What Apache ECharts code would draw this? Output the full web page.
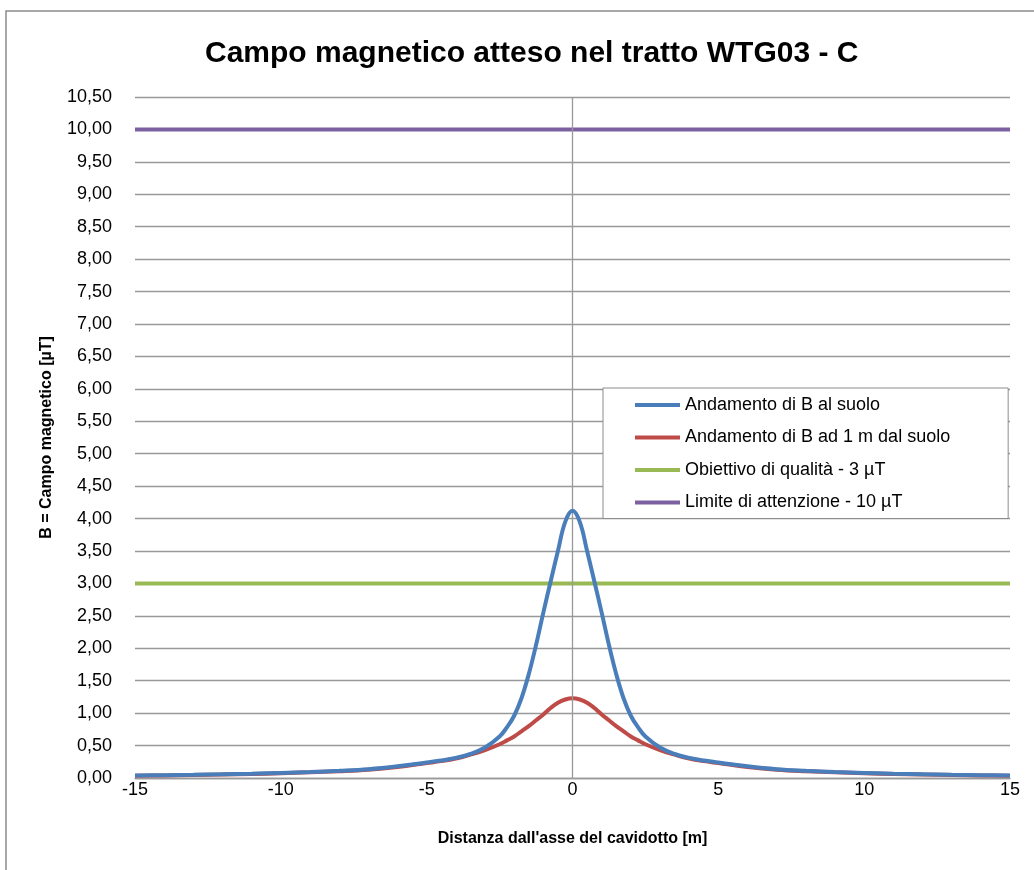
<!DOCTYPE html>
<html>
<head>
<meta charset="utf-8">
<script src="https://cdn.jsdelivr.net/npm/echarts@6/dist/echarts.min.js"></script>
<style>
html,body{margin:0;padding:0;background:#fff;}
#chart{width:1034px;height:870px;}
</style>
</head>
<body>
<div id="chart"></div>
<script>
// Distances from the cable axis [m]
const distances = [-15,-14,-13,-12,-11,-10,-9,-8,-7,-6,-5,-4.5,-4,-3.5,-3,-2.5,-2.25,-2,-1.75,-1.5,-1.25,-1,-0.75,-0.5,-0.25,0,0.25,0.5,0.75,1,1.25,1.5,1.75,2,2.25,2.5,3,3.5,4,4.5,5,6,7,8,9,10,11,12,13,14,15];
// B at ground level [µT]
const bGround = [0.038,0.043,0.049,0.057,0.066,0.078,0.092,0.11,0.135,0.18,0.24,0.27,0.31,0.37,0.47,0.64,0.78,0.96,1.23,1.6,2.05,2.55,3.03,3.5,3.95,4.12,3.95,3.5,3.03,2.55,2.05,1.6,1.23,0.96,0.78,0.64,0.47,0.37,0.31,0.27,0.24,0.18,0.135,0.11,0.092,0.078,0.066,0.057,0.049,0.043,0.038];
// B at 1 m above ground [µT]
const b1m = [0.035,0.04,0.046,0.053,0.062,0.073,0.087,0.104,0.128,0.17,0.23,0.26,0.30,0.36,0.43,0.52,0.58,0.64,0.72,0.80,0.89,0.98,1.08,1.16,1.21,1.23,1.21,1.16,1.08,0.98,0.89,0.80,0.72,0.64,0.58,0.52,0.43,0.36,0.30,0.26,0.23,0.17,0.128,0.104,0.087,0.073,0.062,0.053,0.046,0.04,0.035];
// Reference limits
const qualityTarget = 3;
const attentionLimit = 10;
const xRange = [-15, 15];
const seriesNames = ['Andamento di B al suolo','Andamento di B ad 1 m dal suolo','Obiettivo di qualità - 3 µT','Limite di attenzione - 10 µT'];
const colors = ['#4a7ebb','#be4b48','#98b954','#7d60a0'];

const FONT = 'Liberation Sans, Arial, sans-serif';
const chart = echarts.init(document.getElementById('chart'), null, {renderer:'canvas'});
const pairs = (ys) => distances.map((x,i)=>[x, ys[i]]);
const lineSeries = (name, data, color, extra) => Object.assign({
  name, type:'line', data, smooth:0.4, showSymbol:false, symbol:'none',
  lineStyle:{color, width:4}, itemStyle:{color}, silent:true, animation:false
}, extra||{});

chart.setOption({
  animation:false,
  backgroundColor:'#fff',
  graphic:[{type:'rect', shape:{x:6, y:11, width:1100, height:1000}, style:{fill:'none', stroke:'#8c8c8c', lineWidth:1.5}, silent:true}],
  title:{text:'Campo magnetico atteso nel tratto WTG03 - C', left:200, top:34,
    textStyle:{fontFamily:FONT, fontSize:30, fontWeight:'bold', color:'#000'}},
  grid:{left:135, right:24, top:97, bottom:92, containLabel:false},
  legend:{
    orient:'vertical', left:603, top:388,
    data:seriesNames.map((n,i)=>({name:n, icon:'rect', itemStyle:{color:colors[i]}})),
    itemWidth:45, itemHeight:4, itemGap:12.5,
    padding:[7, 58, 6, 32],
    backgroundColor:'#fff', borderColor:'#8c8c8c', borderWidth:1,
    textStyle:{fontFamily:FONT, fontSize:18, color:'#000', lineHeight:20},
    selectedMode:false, z:10
  },
  xAxis:{type:'value', min:xRange[0], max:xRange[1], interval:5,
    axisLine:{show:true, onZero:true, lineStyle:{color:'#999', width:1.3}},
    axisTick:{show:false}, splitLine:{show:false},
    axisLabel:{fontFamily:FONT, fontSize:18, color:'#000', margin:3},
    name:"Distanza dall'asse del cavidotto [m]", nameLocation:'middle', nameGap:53,
    nameTextStyle:{fontFamily:FONT, fontSize:16, fontWeight:'bold', color:'#000'}
  },
  yAxis:{type:'value', min:0, max:10.5, interval:0.5,
    axisLine:{show:false}, axisTick:{show:false},
    splitLine:{show:true, lineStyle:{color:'#999', width:1.3}},
    axisLabel:{fontFamily:FONT, fontSize:18, color:'#000', margin:23,
      formatter:(v)=>v.toFixed(2).replace('.',',')},
    name:'B = Campo magnetico [µT]', nameLocation:'middle', nameGap:80,
    nameTextStyle:{fontFamily:FONT, fontSize:16, fontWeight:'bold', color:'#000'}
  },
  series:[
    lineSeries(seriesNames[3], xRange.map(x=>[x, attentionLimit]), colors[3], {z:3}),
    lineSeries(seriesNames[2], xRange.map(x=>[x, qualityTarget]), colors[2], {z:3}),
    lineSeries(seriesNames[1], pairs(b1m), colors[1], {z:4}),
    lineSeries(seriesNames[0], pairs(bGround), colors[0], {z:5,
      markLine:{silent:true, symbol:'none', label:{show:false}, animation:false,
        lineStyle:{color:'#999', width:1.3, type:'solid'}, data:[{xAxis:0}]}})
  ]
});
</script>
</body>
</html>
